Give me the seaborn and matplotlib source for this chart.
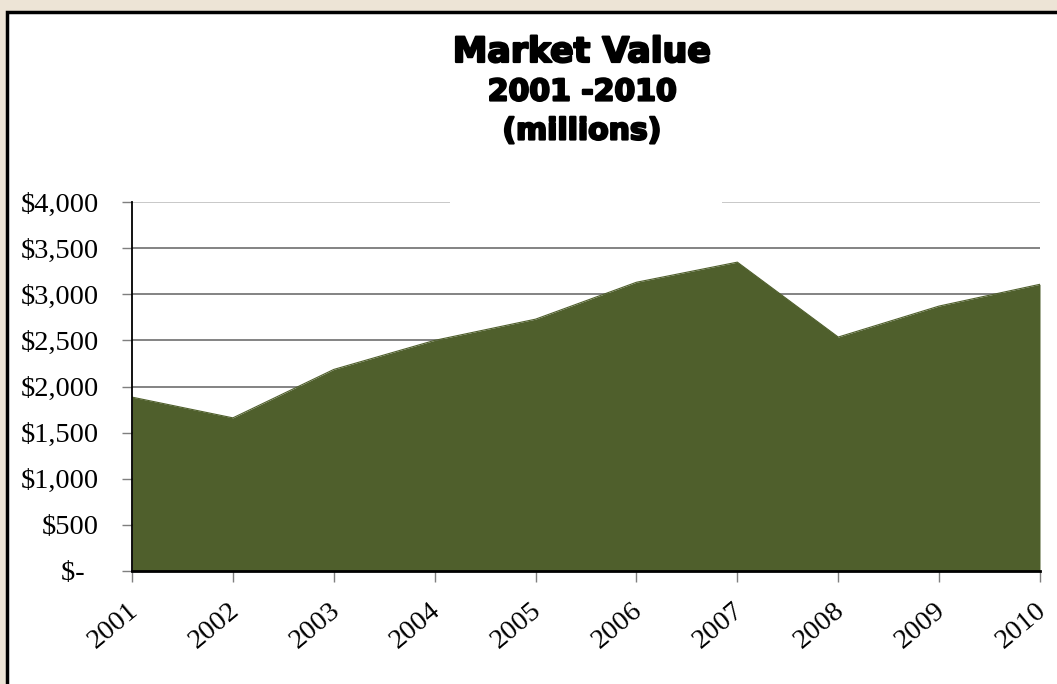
import matplotlib
matplotlib.use("Agg")
import matplotlib.pyplot as plt
import matplotlib.patheffects as pe
from matplotlib.patches import Rectangle
import seaborn as sns
import pandas as pd

# valores (milhões de US$)
anos = [2001, 2002, 2003, 2004, 2005, 2006, 2007, 2008, 2009, 2010]
valores = [1885, 1660, 2185, 2500, 2730, 3130, 3348, 2536, 2872, 3108]
yticks = [0, 500, 1000, 1500, 2000, 2500, 3000, 3500, 4000]
ytick_labels = ['$-  ', '$500', '$1,000', '$1,500', '$2,000', '$2,500',
                '$3,000', '$3,500', '$4,000']
titulo = ["Market Value", "2001 -2010", "(millions)"]

df = pd.DataFrame({'ano': anos, 'valor': valores})

sns.set_theme(style="white")
plt.rcParams['font.family'] = ['Liberation Serif', 'DejaVu Serif']
plt.rcParams['text.color'] = 'black'
plt.rcParams['xtick.labelcolor'] = 'black'
plt.rcParams['ytick.labelcolor'] = 'black'

verde = '#4F5F2C'

fig = plt.figure(figsize=(10.57, 6.84), dpi=100)
fig.patch.set_facecolor('#EDE4D6')

# moldura branca com borda preta
fig.patches.append(Rectangle((7 / 1057, -0.05), 1.1, 1 - 12 / 684 + 0.05,
                             transform=fig.transFigure, facecolor='white',
                             edgecolor='black', linewidth=2.5, zorder=-1))

ax = fig.add_axes([132 / 1057, 1 - 571 / 684, (1040 - 132) / 1057, (571 - 202) / 684])
ax.set_facecolor('none')

sns.lineplot(data=df, x='ano', y='valor', ax=ax, color=verde, linewidth=0.8)
ax.fill_between(df['ano'], df['valor'], color=verde, linewidth=0)

ax.set_xlim(anos[0], anos[-1])
ax.set_ylim(0, 4000)
ax.set_xticks(anos)
ax.set_xticklabels([str(a) for a in anos], rotation=40, ha='right',
                   rotation_mode='anchor', fontsize=20.5, color='black')
ax.set_yticks(yticks)
ax.set_yticklabels(ytick_labels, fontsize=20.5, color='black')
ax.set_xlabel('')
ax.set_ylabel('')

ax.set_axisbelow(True)
ax.yaxis.grid(True, color='#6E6E6E', linewidth=1.2)
ax.xaxis.grid(False)
ax.yaxis.get_gridlines()[-1].set_color('#BFBFBF')

ax.tick_params(axis='y', which='both', left=True, length=7, width=1,
               color='#7F7F7F', pad=17)
ax.tick_params(axis='x', which='both', bottom=True, length=8, width=1,
               color='#7F7F7F', pad=11)

for lado in ['top', 'right']:
    ax.spines[lado].set_visible(False)
ax.spines['left'].set_color('black')
ax.spines['left'].set_linewidth(1.3)
ax.spines['bottom'].set_color('black')
ax.spines['bottom'].set_linewidth(2)

# deslocar um pouco os rótulos do eixo x para a esquerda
from matplotlib.transforms import ScaledTranslation
for lbl in ax.get_xticklabels():
    lbl.set_transform(lbl.get_transform() + ScaledTranslation(-5 / 100, 0, fig.dpi_scale_trans))

# caixa branca atrás do título (corta a linha de $4,000)
fig.patches.append(Rectangle((450 / 1057, 1 - 205 / 684), (722 - 450) / 1057, 160 / 684,
                             transform=fig.transFigure, facecolor='white',
                             edgecolor='none', zorder=2))
fonte_titulo = ['DejaVu Sans']
for texto, ypix, tam in zip(titulo, [52, 92, 131], [25, 21.5, 21.5]):
    fig.text(582 / 1057, 1 - ypix / 684, texto, ha='center', va='center',
             fontsize=tam, fontweight='bold', family=fonte_titulo, color='black',
             zorder=3, path_effects=[pe.withStroke(linewidth=1.6, foreground='black')])

plt.savefig("out.png", dpi=100, facecolor=fig.get_facecolor())
plt.close()
